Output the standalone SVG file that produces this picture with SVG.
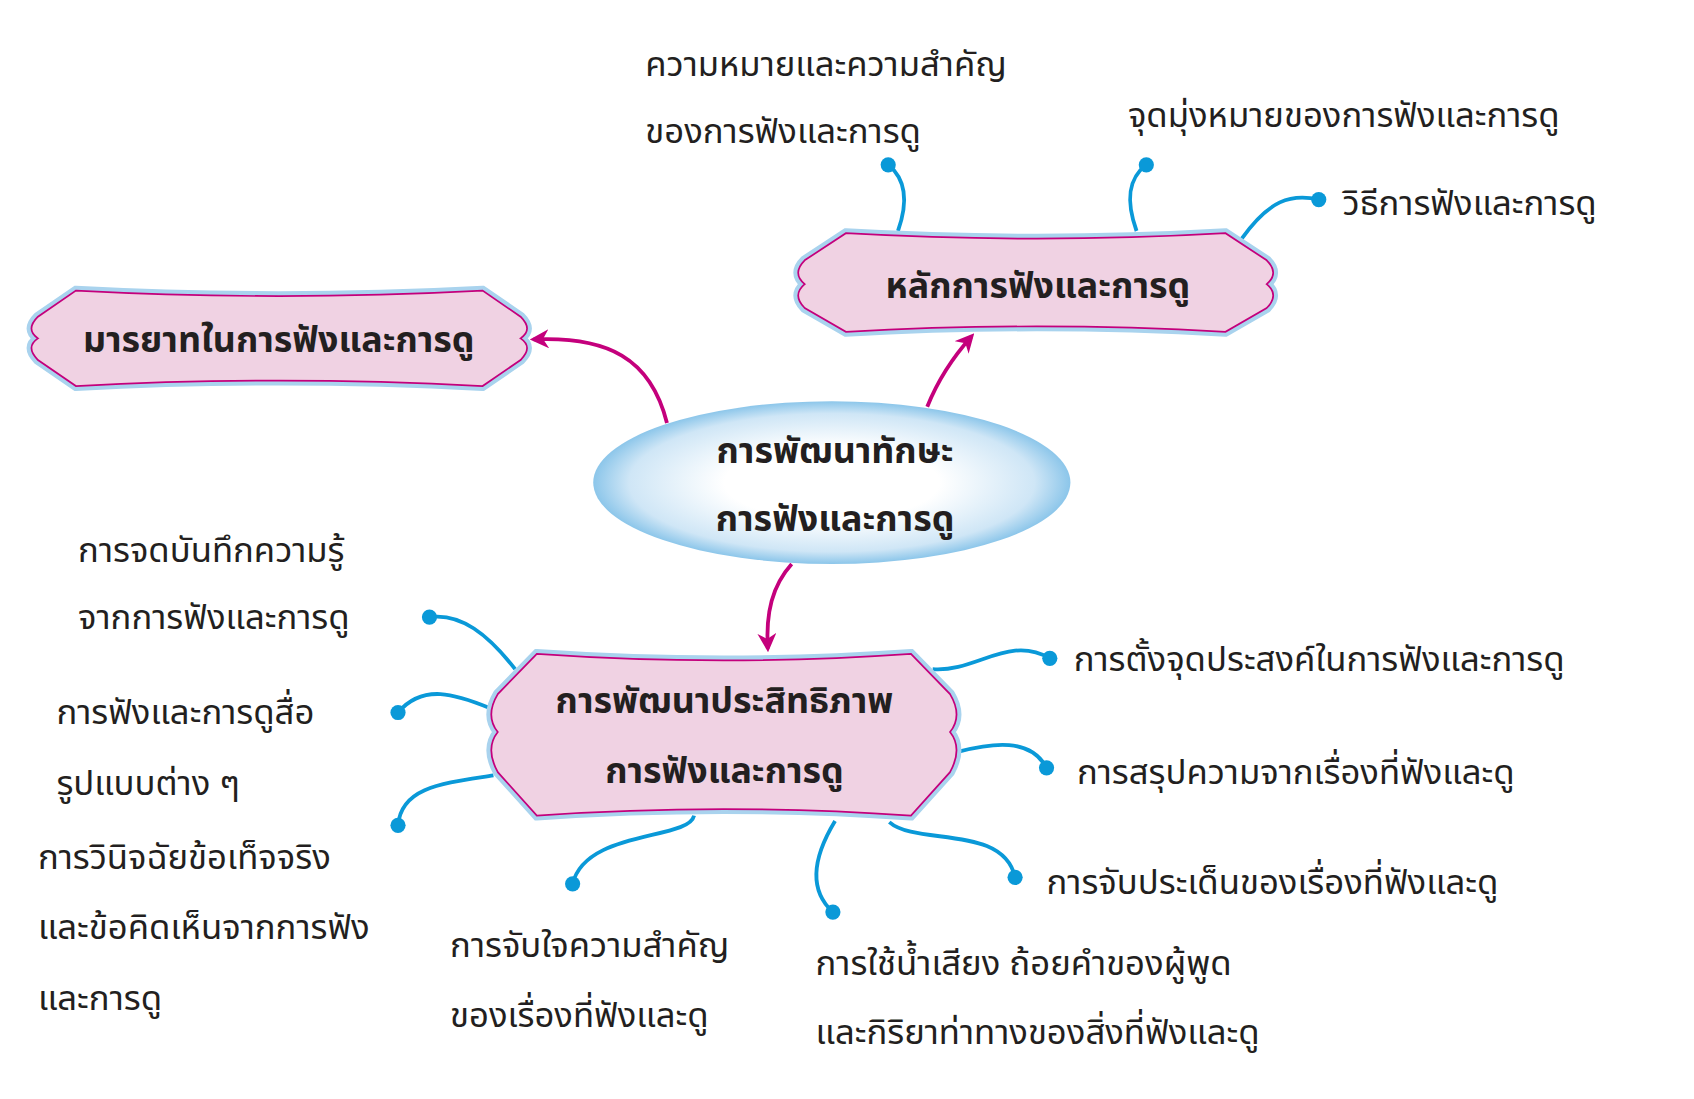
<svg xmlns="http://www.w3.org/2000/svg" width="1694" height="1099" viewBox="0 0 1694 1099">
<defs>
<style>
.halo{fill:none;stroke:#a9d3ee;stroke-width:9}
.box{fill:#f0d2e3;stroke:#c4007c;stroke-width:1.6}
.t{font-family:"Noto Sans Thai","Noto Sans","DejaVu Sans",sans-serif;font-size:32px;fill:#231f20}
.b{font-weight:bold;font-size:33px;text-anchor:middle}
.arr{fill:none;stroke:#c4007c;stroke-width:3.5;marker-end:url(#ah)}
.bl{fill:none;stroke:#0a99d8;stroke-width:3.5}
.dot{fill:#0a99d8}
</style>
<marker id="ah" viewBox="0 0 10 10" refX="8" refY="5" markerWidth="5" markerHeight="5" orient="auto"><path d="M0,0 L10,5 L0,10 L3,5 Z" fill="#c4007c"/></marker>
<radialGradient id="eg" cx="0.5" cy="0.5" r="0.5"><stop offset="0.45" stop-color="#ffffff"/><stop offset="0.85" stop-color="#cfe6f6"/><stop offset="1" stop-color="#8cc6ea"/></radialGradient>
</defs>
<rect width="1694" height="1099" fill="#fff"/>
<g transform="scale(1.0845)">
<g id="connectors">
<path class="arr" d="M615,390 C600,330 560,310 492,313"/>
<path class="arr" d="M855,375 C865,350 878,330 896,310"/>
<path class="arr" d="M730,520 C712,540 706,565 708,598"/>
<path class="bl" d="M828,213 C838,185 835,165 819,152"/><circle class="dot" cx="819" cy="152" r="7"/>
<path class="bl" d="M1048,213 C1038,185 1040,165 1057,152"/><circle class="dot" cx="1057" cy="152" r="7"/>
<path class="bl" d="M1145,220 C1170,185 1190,178 1216,184"/><circle class="dot" cx="1216" cy="184" r="7"/>
<path class="bl" d="M475,617 C450,585 425,565 396,569"/><circle class="dot" cx="396" cy="569" r="7"/>
<path class="bl" d="M452,653 C420,640 390,630 367,657"/><circle class="dot" cx="367" cy="657" r="7"/>
<path class="bl" d="M455,715 C410,722 370,725 367,761"/><circle class="dot" cx="367" cy="761" r="7"/>
<path class="bl" d="M640,752 C635,775 540,765 528,815"/><circle class="dot" cx="528" cy="815" r="7"/>
<path class="bl" d="M770,757 C750,790 745,820 768,841"/><circle class="dot" cx="768" cy="841" r="7"/>
<path class="bl" d="M820,758 C845,780 925,760 936,809"/><circle class="dot" cx="936" cy="809" r="7"/>
<path class="bl" d="M860,617 C900,620 930,585 968,607"/><circle class="dot" cx="968" cy="607" r="7"/>
<path class="bl" d="M884,693 C915,685 950,680 965,708"/><circle class="dot" cx="965" cy="708" r="7"/>
</g>
<g id="center">
<ellipse cx="767" cy="445" rx="220" ry="75" fill="url(#eg)"/>
<text class="t b" x="770" y="427" font-size="36">การพัฒนาทักษะ</text>
<text class="t b" x="770" y="490" font-size="36">การฟังและการดู</text>
</g>
<g id="n-left">
<path id="p1" class="halo" d="M70,268 Q257,278 445,268 L480,292 Q492,304 480,312 Q492,320 480,332 L445,356 Q257,346 70,356 L35,332 Q23,320 35,312 Q23,304 35,292 Z"/>
<path class="box" d="M70,268 Q257,278 445,268 L480,292 Q492,304 480,312 Q492,320 480,332 L445,356 Q257,346 70,356 L35,332 Q23,320 35,312 Q23,304 35,292 Z"/>
<text class="t b" x="257" y="325">มารยาทในการฟังและการดู</text>
</g>
<g id="n-top">
<path class="halo" d="M780,215 Q957,225 1130,215 L1168,240 Q1180,252 1168,262 Q1180,272 1168,284 L1130,306 Q957,296 780,306 L742,284 Q730,272 742,262 Q730,252 742,240 Z"/>
<path class="box" d="M780,215 Q957,225 1130,215 L1168,240 Q1180,252 1168,262 Q1180,272 1168,284 L1130,306 Q957,296 780,306 L742,284 Q730,272 742,262 Q730,252 742,240 Z"/>
<text class="t b" x="957" y="275">หลักการฟังและการดู</text>
</g>
<g id="n-bottom">
<path class="halo" d="M495,603 Q667,615 840,603 L876,640 Q888,660 876,675 Q888,690 876,712 L840,752 Q667,740 495,752 L459,712 Q447,690 459,675 Q447,660 459,640 Z"/>
<path class="box" d="M495,603 Q667,615 840,603 L876,640 Q888,660 876,675 Q888,690 876,712 L840,752 Q667,740 495,752 L459,712 Q447,690 459,675 Q447,660 459,640 Z"/>
<text class="t b" x="668" y="657">การพัฒนาประสิทธิภาพ</text>
<text class="t b" x="668" y="722">การฟังและการดู</text>
</g>
<g id="labels">
<text class="t" x="595" y="70">ความหมายและความสำคัญ</text>
<text class="t" x="595" y="132">ของการฟังและการดู</text>
<text class="t" x="1040" y="117">จุดมุ่งหมายของการฟังและการดู</text>
<text class="t" x="1238" y="198">วิธีการฟังและการดู</text>
<text class="t" x="72" y="518">การจดบันทึกความรู้</text>
<text class="t" x="72" y="580">จากการฟังและการดู</text>
<text class="t" x="52" y="668">การฟังและการดูสื่อ</text>
<text class="t" x="52" y="733">รูปแบบต่าง ๆ</text>
<text class="t" x="35" y="801">การวินิจฉัยข้อเท็จจริง</text>
<text class="t" x="35" y="866">และข้อคิดเห็นจากการฟัง</text>
<text class="t" x="35" y="931">และการดู</text>
<text class="t" x="415" y="882">การจับใจความสำคัญ</text>
<text class="t" x="415" y="947">ของเรื่องที่ฟังและดู</text>
<text class="t" x="752" y="899">การใช้น้ำเสียง  ถ้อยคำของผู้พูด</text>
<text class="t" x="752" y="963">และกิริยาท่าทางของสิ่งที่ฟังและดู</text>
<text class="t" x="965" y="824">การจับประเด็นของเรื่องที่ฟังและดู</text>
<text class="t" x="993" y="723">การสรุปความจากเรื่องที่ฟังและดู</text>
<text class="t" x="990" y="619">การตั้งจุดประสงค์ในการฟังและการดู</text>
</g>
</g>
</svg>
